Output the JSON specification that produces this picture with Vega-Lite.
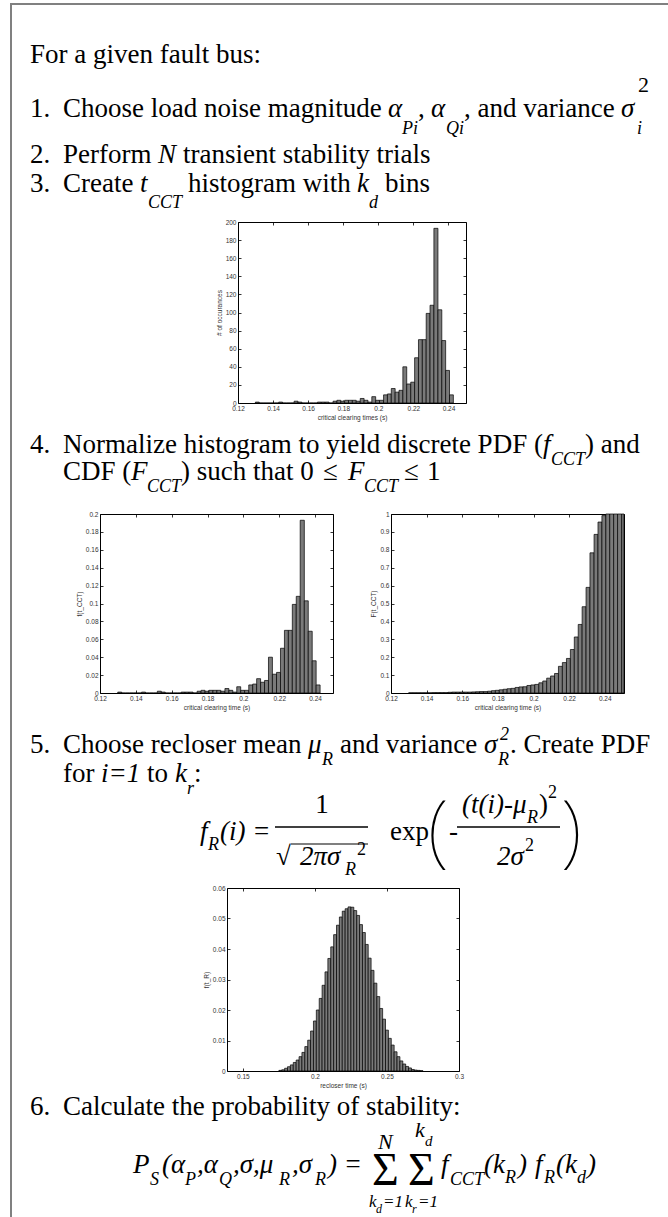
{
"$schema": "https://vega.github.io/schema/vega-lite/v6.json",
"padding": 0,
"background": "white",
"spacing": 0,
"bounds": "flush",
"datasets": {
"cct": [
{"lo":0.1299,"hi":0.1321,"n":1,"p":0.001,"F":0.001},
{"lo":0.1321,"hi":0.1343,"n":0,"p":0,"F":0.001},
{"lo":0.1343,"hi":0.1365,"n":0,"p":0,"F":0.001},
{"lo":0.1365,"hi":0.1387,"n":0,"p":0,"F":0.001},
{"lo":0.1387,"hi":0.1409,"n":0,"p":0,"F":0.001},
{"lo":0.1409,"hi":0.1432,"n":0,"p":0,"F":0.001},
{"lo":0.1432,"hi":0.1454,"n":1,"p":0.001,"F":0.002},
{"lo":0.1454,"hi":0.1476,"n":0,"p":0,"F":0.002},
{"lo":0.1476,"hi":0.1498,"n":0,"p":0,"F":0.002},
{"lo":0.1498,"hi":0.1520,"n":0,"p":0,"F":0.002},
{"lo":0.1520,"hi":0.1542,"n":2,"p":0.002,"F":0.004},
{"lo":0.1542,"hi":0.1564,"n":1,"p":0.001,"F":0.005},
{"lo":0.1564,"hi":0.1587,"n":0,"p":0,"F":0.005},
{"lo":0.1587,"hi":0.1609,"n":0,"p":0,"F":0.005},
{"lo":0.1609,"hi":0.1631,"n":0,"p":0,"F":0.005},
{"lo":0.1631,"hi":0.1653,"n":0,"p":0,"F":0.005},
{"lo":0.1653,"hi":0.1675,"n":1,"p":0.001,"F":0.006},
{"lo":0.1675,"hi":0.1697,"n":1,"p":0.001,"F":0.007},
{"lo":0.1697,"hi":0.1719,"n":1,"p":0.001,"F":0.008},
{"lo":0.1719,"hi":0.1742,"n":0,"p":0,"F":0.008},
{"lo":0.1742,"hi":0.1764,"n":2,"p":0.002,"F":0.010},
{"lo":0.1764,"hi":0.1786,"n":3,"p":0.003,"F":0.013},
{"lo":0.1786,"hi":0.1808,"n":2,"p":0.002,"F":0.015},
{"lo":0.1808,"hi":0.1830,"n":3,"p":0.003,"F":0.018},
{"lo":0.1830,"hi":0.1852,"n":3,"p":0.003,"F":0.021},
{"lo":0.1852,"hi":0.1874,"n":3,"p":0.003,"F":0.024},
{"lo":0.1874,"hi":0.1897,"n":2,"p":0.002,"F":0.026},
{"lo":0.1897,"hi":0.1919,"n":5,"p":0.005,"F":0.031},
{"lo":0.1919,"hi":0.1941,"n":3,"p":0.003,"F":0.034},
{"lo":0.1941,"hi":0.1963,"n":1,"p":0.001,"F":0.035},
{"lo":0.1963,"hi":0.1985,"n":7,"p":0.007,"F":0.042},
{"lo":0.1985,"hi":0.2007,"n":3,"p":0.003,"F":0.045},
{"lo":0.2007,"hi":0.2030,"n":3,"p":0.003,"F":0.048},
{"lo":0.2030,"hi":0.2052,"n":9,"p":0.009,"F":0.057},
{"lo":0.2052,"hi":0.2074,"n":10,"p":0.010,"F":0.067},
{"lo":0.2074,"hi":0.2096,"n":16,"p":0.016,"F":0.083},
{"lo":0.2096,"hi":0.2118,"n":12,"p":0.012,"F":0.095},
{"lo":0.2118,"hi":0.2140,"n":14,"p":0.014,"F":0.109},
{"lo":0.2140,"hi":0.2162,"n":40,"p":0.040,"F":0.149},
{"lo":0.2162,"hi":0.2185,"n":21,"p":0.021,"F":0.170},
{"lo":0.2185,"hi":0.2207,"n":23,"p":0.023,"F":0.193},
{"lo":0.2207,"hi":0.2229,"n":50,"p":0.050,"F":0.243},
{"lo":0.2229,"hi":0.2251,"n":70,"p":0.070,"F":0.313},
{"lo":0.2251,"hi":0.2273,"n":70,"p":0.070,"F":0.383},
{"lo":0.2273,"hi":0.2295,"n":99,"p":0.099,"F":0.482},
{"lo":0.2295,"hi":0.2317,"n":108,"p":0.108,"F":0.590},
{"lo":0.2317,"hi":0.2340,"n":193,"p":0.193,"F":0.783},
{"lo":0.2340,"hi":0.2362,"n":103,"p":0.103,"F":0.886},
{"lo":0.2362,"hi":0.2384,"n":69,"p":0.069,"F":0.955},
{"lo":0.2384,"hi":0.2406,"n":36,"p":0.036,"F":0.991},
{"lo":0.2406,"hi":0.2428,"n":9,"p":0.009,"F":1},
{"lo":0.2428,"hi":0.2450,"n":0,"p":0,"F":1},
{"lo":0.2450,"hi":0.2472,"n":0,"p":0,"F":1},
{"lo":0.2472,"hi":0.2495,"n":0,"p":0,"F":1},
{"lo":0.2495,"hi":0.2508,"n":0,"p":0,"F":1}
],
"rec": [
{"lo":0.175,"hi":0.177,"f":0.0002},
{"lo":0.177,"hi":0.179,"f":0.0004},
{"lo":0.179,"hi":0.181,"f":0.0009},
{"lo":0.181,"hi":0.183,"f":0.0014},
{"lo":0.183,"hi":0.185,"f":0.0020},
{"lo":0.185,"hi":0.187,"f":0.0028},
{"lo":0.187,"hi":0.189,"f":0.0036},
{"lo":0.189,"hi":0.191,"f":0.0047},
{"lo":0.191,"hi":0.193,"f":0.0061},
{"lo":0.193,"hi":0.195,"f":0.0080},
{"lo":0.195,"hi":0.197,"f":0.0101},
{"lo":0.197,"hi":0.199,"f":0.0131},
{"lo":0.199,"hi":0.201,"f":0.0164},
{"lo":0.201,"hi":0.203,"f":0.0200},
{"lo":0.203,"hi":0.205,"f":0.0238},
{"lo":0.205,"hi":0.207,"f":0.0281},
{"lo":0.207,"hi":0.209,"f":0.0325},
{"lo":0.209,"hi":0.211,"f":0.0369},
{"lo":0.211,"hi":0.213,"f":0.0407},
{"lo":0.213,"hi":0.215,"f":0.0447},
{"lo":0.215,"hi":0.217,"f":0.0478},
{"lo":0.217,"hi":0.219,"f":0.0505},
{"lo":0.219,"hi":0.221,"f":0.0524},
{"lo":0.221,"hi":0.223,"f":0.0532},
{"lo":0.223,"hi":0.225,"f":0.0538},
{"lo":0.225,"hi":0.227,"f":0.0537},
{"lo":0.227,"hi":0.229,"f":0.0526},
{"lo":0.229,"hi":0.231,"f":0.0510},
{"lo":0.231,"hi":0.233,"f":0.0480},
{"lo":0.233,"hi":0.235,"f":0.0454},
{"lo":0.235,"hi":0.237,"f":0.0415},
{"lo":0.237,"hi":0.239,"f":0.0370},
{"lo":0.239,"hi":0.241,"f":0.0330},
{"lo":0.241,"hi":0.243,"f":0.0288},
{"lo":0.243,"hi":0.245,"f":0.0244},
{"lo":0.245,"hi":0.247,"f":0.0205},
{"lo":0.247,"hi":0.249,"f":0.0170},
{"lo":0.249,"hi":0.251,"f":0.0134},
{"lo":0.251,"hi":0.253,"f":0.0107},
{"lo":0.253,"hi":0.255,"f":0.0085},
{"lo":0.255,"hi":0.257,"f":0.0063},
{"lo":0.257,"hi":0.259,"f":0.0047},
{"lo":0.259,"hi":0.261,"f":0.0033},
{"lo":0.261,"hi":0.263,"f":0.0023},
{"lo":0.263,"hi":0.265,"f":0.0015},
{"lo":0.265,"hi":0.267,"f":0.0010},
{"lo":0.267,"hi":0.269,"f":0.0005},
{"lo":0.269,"hi":0.271,"f":0.0003},
{"lo":0.271,"hi":0.273,"f":0.0002},
{"lo":0.273,"hi":0.275,"f":0.0001}
]
},
"vconcat": [
{
"width": 668, "height": 222,
"layer": [
{"data":{"values":[{}]},"mark":{"type":"rule","color":"#808080","strokeWidth":2},"encoding":{"x":{"value":10},"x2":{"value":668},"y":{"value":4}}},
{"data":{"values":[{}]},"mark":{"type":"rule","color":"#808080","strokeWidth":2},"encoding":{"x":{"value":11},"y":{"value":3},"y2":{"value":222}}},
{"data":{"values":[{"t":"For a given fault bus:"}]},"mark":{"type":"text"},"encoding":{"text":{"field":"t"},"x":{"value":30},"y":{"value":63}}},
{"data":{"values":[{"t":"1."}]},"mark":{"type":"text"},"encoding":{"text":{"field":"t"},"x":{"value":30},"y":{"value":117}}},
{"data":{"values":[{"t":"Choose load noise magnitude"}]},"mark":{"type":"text"},"encoding":{"text":{"field":"t"},"x":{"value":63},"y":{"value":117}}},
{"data":{"values":[{"t":"α"}]},"mark":{"type":"text","fontStyle":"italic"},"encoding":{"text":{"field":"t"},"x":{"value":388},"y":{"value":117}}},
{"data":{"values":[{"t":"Pi"}]},"mark":{"type":"text","fontStyle":"italic","fontSize":18},"encoding":{"text":{"field":"t"},"x":{"value":402},"y":{"value":134}}},
{"data":{"values":[{"t":","}]},"mark":{"type":"text"},"encoding":{"text":{"field":"t"},"x":{"value":418},"y":{"value":117}}},
{"data":{"values":[{"t":"α"}]},"mark":{"type":"text","fontStyle":"italic"},"encoding":{"text":{"field":"t"},"x":{"value":431},"y":{"value":117}}},
{"data":{"values":[{"t":"Qi"}]},"mark":{"type":"text","fontStyle":"italic","fontSize":18},"encoding":{"text":{"field":"t"},"x":{"value":446},"y":{"value":134}}},
{"data":{"values":[{"t":", and variance"}]},"mark":{"type":"text"},"encoding":{"text":{"field":"t"},"x":{"value":464},"y":{"value":117}}},
{"data":{"values":[{"t":"σ"}]},"mark":{"type":"text","fontStyle":"italic"},"encoding":{"text":{"field":"t"},"x":{"value":621},"y":{"value":117}}},
{"data":{"values":[{"t":"i"}]},"mark":{"type":"text","fontStyle":"italic","fontSize":18},"encoding":{"text":{"field":"t"},"x":{"value":637},"y":{"value":134}}},
{"data":{"values":[{"t":"2"}]},"mark":{"type":"text","fontSize":22},"encoding":{"text":{"field":"t"},"x":{"value":638},"y":{"value":92}}},
{"data":{"values":[{"t":"2."}]},"mark":{"type":"text"},"encoding":{"text":{"field":"t"},"x":{"value":30},"y":{"value":163}}},
{"data":{"values":[{"t":"Perform"}]},"mark":{"type":"text"},"encoding":{"text":{"field":"t"},"x":{"value":63},"y":{"value":163}}},
{"data":{"values":[{"t":"N"}]},"mark":{"type":"text","fontStyle":"italic"},"encoding":{"text":{"field":"t"},"x":{"value":158},"y":{"value":163}}},
{"data":{"values":[{"t":"transient stability trials"}]},"mark":{"type":"text"},"encoding":{"text":{"field":"t"},"x":{"value":183},"y":{"value":163}}},
{"data":{"values":[{"t":"3."}]},"mark":{"type":"text"},"encoding":{"text":{"field":"t"},"x":{"value":30},"y":{"value":192}}},
{"data":{"values":[{"t":"Create"}]},"mark":{"type":"text"},"encoding":{"text":{"field":"t"},"x":{"value":63},"y":{"value":192}}},
{"data":{"values":[{"t":"t"}]},"mark":{"type":"text","fontStyle":"italic"},"encoding":{"text":{"field":"t"},"x":{"value":140},"y":{"value":192}}},
{"data":{"values":[{"t":"CCT"}]},"mark":{"type":"text","fontStyle":"italic","fontSize":18},"encoding":{"text":{"field":"t"},"x":{"value":148},"y":{"value":208}}},
{"data":{"values":[{"t":"histogram with"}]},"mark":{"type":"text"},"encoding":{"text":{"field":"t"},"x":{"value":188},"y":{"value":192}}},
{"data":{"values":[{"t":"k"}]},"mark":{"type":"text","fontStyle":"italic"},"encoding":{"text":{"field":"t"},"x":{"value":357},"y":{"value":192}}},
{"data":{"values":[{"t":"d"}]},"mark":{"type":"text","fontStyle":"italic","fontSize":18},"encoding":{"text":{"field":"t"},"x":{"value":369},"y":{"value":208}}},
{"data":{"values":[{"t":"bins"}]},"mark":{"type":"text"},"encoding":{"text":{"field":"t"},"x":{"value":385},"y":{"value":192}}}
]
},
{
"width": 668, "height": 181,
"layer": [
{"data":{"values":[{}]},"mark":{"type":"rule","color":"#808080","strokeWidth":2},"encoding":{"x":{"value":11},"y":{"value":0},"y2":{"value":181}}},
{"data": {"name": "cct"}, "transform": [{"filter": "datum.lo < 0.2428"}], "mark": {"type": "bar"}, "encoding": {
"x": {"field": "lo", "type": "quantitative", "scale": {"domain": [0.12, 0.25], "range": [238, 466], "nice": false, "zero": false}, "axis": {"orient": "bottom", "values": [0.12,0.14,0.16,0.18,0.2,0.22,0.24], "format": "~r", "title": "critical clearing times (s)"}},
"x2": {"field": "hi"},
"y": {"field": "n", "type": "quantitative", "scale": {"domain": [0, 200], "nice": false}, "axis": {"orient": "left", "offset": -238, "values": [0,20,40,60,80,100,120,140,160,180,200], "format": "~r", "title": "# of occurances"}},
"y2": {"datum": 0}}},
{"data": {"name": "cct"}, "transform": [{"filter": "datum.lo < 0.2428"}], "mark": {"type": "bar", "opacity": 0}, "encoding": {
"x": {"field": "lo", "type": "quantitative", "scale": {"domain": [0.12, 0.25], "range": [238, 466], "nice": false, "zero": false}, "axis": {"orient": "top", "values": [0.12,0.14,0.16,0.18,0.2,0.22,0.24], "labels": false, "title": null}},
"x2": {"field": "hi"},
"y": {"field": "n", "type": "quantitative", "scale": {"domain": [0, 200], "nice": false}, "axis": {"orient": "right", "offset": -202, "values": [0,20,40,60,80,100,120,140,160,180,200], "labels": false, "title": null}},
"y2": {"datum": 0}}}
],
"resolve": {"scale": {"x": "independent", "y": "independent"}, "axis": {"x": "independent", "y": "independent"}}
},
{
"width": 668, "height": 111,
"layer": [
{"data":{"values":[{}]},"mark":{"type":"rule","color":"#808080","strokeWidth":2},"encoding":{"x":{"value":11},"y":{"value":0},"y2":{"value":111}}},
{"data":{"values":[{"t":"4."}]},"mark":{"type":"text"},"encoding":{"text":{"field":"t"},"x":{"value":30},"y":{"value":50}}},
{"data":{"values":[{"t":"Normalize histogram to yield discrete PDF ("}]},"mark":{"type":"text"},"encoding":{"text":{"field":"t"},"x":{"value":63},"y":{"value":50}}},
{"data":{"values":[{"t":"f"}]},"mark":{"type":"text","fontStyle":"italic"},"encoding":{"text":{"field":"t"},"x":{"value":543},"y":{"value":50}}},
{"data":{"values":[{"t":"CCT"}]},"mark":{"type":"text","fontStyle":"italic","fontSize":18},"encoding":{"text":{"field":"t"},"x":{"value":551},"y":{"value":62}}},
{"data":{"values":[{"t":") and"}]},"mark":{"type":"text"},"encoding":{"text":{"field":"t"},"x":{"value":585},"y":{"value":50}}},
{"data":{"values":[{"t":"CDF ("}]},"mark":{"type":"text"},"encoding":{"text":{"field":"t"},"x":{"value":63},"y":{"value":77}}},
{"data":{"values":[{"t":"F"}]},"mark":{"type":"text","fontStyle":"italic"},"encoding":{"text":{"field":"t"},"x":{"value":131},"y":{"value":77}}},
{"data":{"values":[{"t":"CCT"}]},"mark":{"type":"text","fontStyle":"italic","fontSize":18},"encoding":{"text":{"field":"t"},"x":{"value":147},"y":{"value":89}}},
{"data":{"values":[{"t":") such that 0"}]},"mark":{"type":"text"},"encoding":{"text":{"field":"t"},"x":{"value":181},"y":{"value":77}}},
{"data":{"values":[{"t":"≤"}]},"mark":{"type":"text"},"encoding":{"text":{"field":"t"},"x":{"value":323},"y":{"value":77}}},
{"data":{"values":[{"t":"F"}]},"mark":{"type":"text","fontStyle":"italic"},"encoding":{"text":{"field":"t"},"x":{"value":348},"y":{"value":77}}},
{"data":{"values":[{"t":"CCT"}]},"mark":{"type":"text","fontStyle":"italic","fontSize":18},"encoding":{"text":{"field":"t"},"x":{"value":364},"y":{"value":89}}},
{"data":{"values":[{"t":"≤"}]},"mark":{"type":"text"},"encoding":{"text":{"field":"t"},"x":{"value":404},"y":{"value":77}}},
{"data":{"values":[{"t":"1"}]},"mark":{"type":"text"},"encoding":{"text":{"field":"t"},"x":{"value":427},"y":{"value":77}}}
]
},
{
"width": 668, "height": 179,
"layer": [
{"data":{"values":[{}]},"mark":{"type":"rule","color":"#808080","strokeWidth":2},"encoding":{"x":{"value":11},"y":{"value":0},"y2":{"value":179}}},
{"data": {"name": "cct"}, "transform": [{"filter": "datum.lo < 0.2428"}], "mark": {"type": "bar"}, "encoding": {
"x": {"field": "lo", "type": "quantitative", "scale": {"domain": [0.12, 0.25], "range": [100, 333], "nice": false, "zero": false}, "axis": {"orient": "bottom", "values": [0.12,0.14,0.16,0.18,0.2,0.22,0.24], "format": "~r", "title": "critical clearing time (s)"}},
"x2": {"field": "hi"},
"y": {"field": "p", "type": "quantitative", "scale": {"domain": [0, 0.2], "nice": false}, "axis": {"orient": "left", "offset": -100, "values": [0,0.02,0.04,0.06,0.08,0.1,0.12,0.14,0.16,0.18,0.2], "format": "~r", "title": "f(t_CCT)"}},
"y2": {"datum": 0}}},
{"data": {"name": "cct"}, "transform": [{"filter": "datum.lo < 0.2428"}], "mark": {"type": "bar", "opacity": 0}, "encoding": {
"x": {"field": "lo", "type": "quantitative", "scale": {"domain": [0.12, 0.25], "range": [100, 333], "nice": false, "zero": false}, "axis": {"orient": "top", "values": [0.12,0.14,0.16,0.18,0.2,0.22,0.24], "labels": false, "title": null}},
"x2": {"field": "hi"},
"y": {"field": "p", "type": "quantitative", "scale": {"domain": [0, 0.2], "nice": false}, "axis": {"orient": "right", "offset": -335, "values": [0,0.02,0.04,0.06,0.08,0.1,0.12,0.14,0.16,0.18,0.2], "labels": false, "title": null}},
"y2": {"datum": 0}}},
{"data": {"name": "cct"}, "mark": {"type": "bar"}, "encoding": {
"x": {"field": "lo", "type": "quantitative", "scale": {"domain": [0.12, 0.2508], "range": [391, 624], "nice": false, "zero": false}, "axis": {"orient": "bottom", "values": [0.12,0.14,0.16,0.18,0.2,0.22,0.24], "format": "~r", "title": "critical clearing time (s)"}},
"x2": {"field": "hi"},
"y": {"field": "F", "type": "quantitative", "scale": {"domain": [0, 1], "nice": false}, "axis": {"orient": "left", "offset": -391, "values": [0,0.1,0.2,0.3,0.4,0.5,0.6,0.7,0.8,0.9,1], "format": "~r", "title": "F(t_CCT)"}},
"y2": {"datum": 0}}},
{"data": {"name": "cct"}, "mark": {"type": "bar", "opacity": 0}, "encoding": {
"x": {"field": "lo", "type": "quantitative", "scale": {"domain": [0.12, 0.2508], "range": [391, 624], "nice": false, "zero": false}, "axis": {"orient": "top", "values": [0.12,0.14,0.16,0.18,0.2,0.22,0.24], "labels": false, "title": null}},
"x2": {"field": "hi"},
"y": {"field": "F", "type": "quantitative", "scale": {"domain": [0, 1], "nice": false}, "axis": {"orient": "right", "offset": -44, "values": [0,0.1,0.2,0.3,0.4,0.5,0.6,0.7,0.8,0.9,1], "labels": false, "title": null}},
"y2": {"datum": 0}}}
],
"resolve": {"scale": {"x": "independent", "y": "independent"}, "axis": {"x": "independent", "y": "independent"}}
},
{
"width": 668, "height": 195,
"layer": [
{"data":{"values":[{}]},"mark":{"type":"rule","color":"#808080","strokeWidth":2},"encoding":{"x":{"value":11},"y":{"value":0},"y2":{"value":195}}},
{"data":{"values":[{"t":"5."}]},"mark":{"type":"text"},"encoding":{"text":{"field":"t"},"x":{"value":30},"y":{"value":60}}},
{"data":{"values":[{"t":"Choose recloser mean"}]},"mark":{"type":"text"},"encoding":{"text":{"field":"t"},"x":{"value":63},"y":{"value":60}}},
{"data":{"values":[{"t":"μ"}]},"mark":{"type":"text","fontStyle":"italic"},"encoding":{"text":{"field":"t"},"x":{"value":308},"y":{"value":60}}},
{"data":{"values":[{"t":"R"}]},"mark":{"type":"text","fontStyle":"italic","fontSize":18},"encoding":{"text":{"field":"t"},"x":{"value":322},"y":{"value":72}}},
{"data":{"values":[{"t":"and variance"}]},"mark":{"type":"text"},"encoding":{"text":{"field":"t"},"x":{"value":340},"y":{"value":60}}},
{"data":{"values":[{"t":"σ"}]},"mark":{"type":"text","fontStyle":"italic"},"encoding":{"text":{"field":"t"},"x":{"value":484},"y":{"value":60}}},
{"data":{"values":[{"t":"R"}]},"mark":{"type":"text","fontStyle":"italic","fontSize":18},"encoding":{"text":{"field":"t"},"x":{"value":498},"y":{"value":72}}},
{"data":{"values":[{"t":"2"}]},"mark":{"type":"text","fontStyle":"italic","fontSize":18},"encoding":{"text":{"field":"t"},"x":{"value":500},"y":{"value":47}}},
{"data":{"values":[{"t":". Create PDF"}]},"mark":{"type":"text"},"encoding":{"text":{"field":"t"},"x":{"value":510},"y":{"value":60}}},
{"data":{"values":[{"t":"for"}]},"mark":{"type":"text"},"encoding":{"text":{"field":"t"},"x":{"value":63},"y":{"value":89}}},
{"data":{"values":[{"t":"i=1"}]},"mark":{"type":"text","fontStyle":"italic"},"encoding":{"text":{"field":"t"},"x":{"value":101},"y":{"value":89}}},
{"data":{"values":[{"t":"to"}]},"mark":{"type":"text"},"encoding":{"text":{"field":"t"},"x":{"value":147},"y":{"value":89}}},
{"data":{"values":[{"t":"k"}]},"mark":{"type":"text","fontStyle":"italic"},"encoding":{"text":{"field":"t"},"x":{"value":175},"y":{"value":89}}},
{"data":{"values":[{"t":"r"}]},"mark":{"type":"text","fontStyle":"italic","fontSize":18},"encoding":{"text":{"field":"t"},"x":{"value":187},"y":{"value":101}}},
{"data":{"values":[{"t":":"}]},"mark":{"type":"text"},"encoding":{"text":{"field":"t"},"x":{"value":194},"y":{"value":89}}},
{"data":{"values":[{"t":"f"}]},"mark":{"type":"text","fontStyle":"italic"},"encoding":{"text":{"field":"t"},"x":{"value":200},"y":{"value":147}}},
{"data":{"values":[{"t":"R"}]},"mark":{"type":"text","fontStyle":"italic","fontSize":18},"encoding":{"text":{"field":"t"},"x":{"value":208},"y":{"value":157}}},
{"data":{"values":[{"t":"(i) ="}]},"mark":{"type":"text","fontStyle":"italic"},"encoding":{"text":{"field":"t"},"x":{"value":220},"y":{"value":147}}},
{"data":{"values":[{"t":"1"}]},"mark":{"type":"text","align":"center"},"encoding":{"text":{"field":"t"},"x":{"value":322},"y":{"value":120}}},
{"data":{"values":[{}]},"mark":{"type":"rule","color":"#000","strokeWidth":1.3},"encoding":{"x":{"value":275},"x2":{"value":368},"y":{"value":134}}},
{"data":{"values":[{"t":"√"}]},"mark":{"type":"text"},"encoding":{"text":{"field":"t"},"x":{"value":276},"y":{"value":172}}},
{"data":{"values":[{}]},"mark":{"type":"rule","color":"#000","strokeWidth":1.2},"encoding":{"x":{"value":291},"x2":{"value":368},"y":{"value":151}}},
{"data":{"values":[{"t":"2πσ"}]},"mark":{"type":"text","fontStyle":"italic"},"encoding":{"text":{"field":"t"},"x":{"value":300},"y":{"value":172}}},
{"data":{"values":[{"t":"R"}]},"mark":{"type":"text","fontStyle":"italic","fontSize":18},"encoding":{"text":{"field":"t"},"x":{"value":345},"y":{"value":182}}},
{"data":{"values":[{"t":"2"}]},"mark":{"type":"text","fontSize":18},"encoding":{"text":{"field":"t"},"x":{"value":357},"y":{"value":162}}},
{"data":{"values":[{"t":"exp"}]},"mark":{"type":"text"},"encoding":{"text":{"field":"t"},"x":{"value":390},"y":{"value":147}}},
{"data":{"values":[{"t":"("}]},"mark":{"type":"text","fontSize":80,"font":"Noto Sans","fontWeight":100},"encoding":{"text":{"field":"t"},"x":{"value":428},"y":{"value":164}}},
{"data":{"values":[{"t":"-"}]},"mark":{"type":"text"},"encoding":{"text":{"field":"t"},"x":{"value":449},"y":{"value":147}}},
{"data":{"values":[{"t":"(t(i)-μ"}]},"mark":{"type":"text","fontStyle":"italic"},"encoding":{"text":{"field":"t"},"x":{"value":462},"y":{"value":120}}},
{"data":{"values":[{"t":"R"}]},"mark":{"type":"text","fontStyle":"italic","fontSize":18},"encoding":{"text":{"field":"t"},"x":{"value":527},"y":{"value":130}}},
{"data":{"values":[{"t":")"}]},"mark":{"type":"text"},"encoding":{"text":{"field":"t"},"x":{"value":539},"y":{"value":120}}},
{"data":{"values":[{"t":"2"}]},"mark":{"type":"text","fontSize":18},"encoding":{"text":{"field":"t"},"x":{"value":548},"y":{"value":105}}},
{"data":{"values":[{}]},"mark":{"type":"rule","color":"#000","strokeWidth":1.3},"encoding":{"x":{"value":457},"x2":{"value":560},"y":{"value":134}}},
{"data":{"values":[{"t":"2σ"}]},"mark":{"type":"text","fontStyle":"italic"},"encoding":{"text":{"field":"t"},"x":{"value":497},"y":{"value":172}}},
{"data":{"values":[{"t":"2"}]},"mark":{"type":"text","fontSize":18},"encoding":{"text":{"field":"t"},"x":{"value":525},"y":{"value":158}}},
{"data":{"values":[{"t":")"}]},"mark":{"type":"text","fontSize":80,"font":"Noto Sans","fontWeight":100},"encoding":{"text":{"field":"t"},"x":{"value":561},"y":{"value":164}}}
]
},
{
"width": 668, "height": 183,
"layer": [
{"data":{"values":[{}]},"mark":{"type":"rule","color":"#808080","strokeWidth":2},"encoding":{"x":{"value":11},"y":{"value":0},"y2":{"value":183}}},
{"data": {"name": "rec"}, "mark": {"type": "bar"}, "encoding": {
"x": {"field": "lo", "type": "quantitative", "scale": {"domain": [0.139, 0.3], "range": [227, 459], "nice": false, "zero": false}, "axis": {"orient": "bottom", "values": [0.15,0.2,0.25,0.3], "format": "~r", "title": "recloser time (s)"}},
"x2": {"field": "hi"},
"y": {"field": "f", "type": "quantitative", "scale": {"domain": [0, 0.06], "nice": false}, "axis": {"orient": "left", "offset": -227, "values": [0,0.01,0.02,0.03,0.04,0.05,0.06], "format": "~r", "title": "f(t_R)"}},
"y2": {"datum": 0}}},
{"data": {"name": "rec"}, "mark": {"type": "bar", "opacity": 0}, "encoding": {
"x": {"field": "lo", "type": "quantitative", "scale": {"domain": [0.139, 0.3], "range": [227, 459], "nice": false, "zero": false}, "axis": {"orient": "top", "values": [0.15,0.2,0.25,0.3], "labels": false, "title": null}},
"x2": {"field": "hi"},
"y": {"field": "f", "type": "quantitative", "scale": {"domain": [0, 0.06], "nice": false}, "axis": {"orient": "right", "offset": -209, "values": [0,0.01,0.02,0.03,0.04,0.05,0.06], "labels": false, "title": null}},
"y2": {"datum": 0}}}
],
"resolve": {"scale": {"x": "independent", "y": "independent"}, "axis": {"x": "independent", "y": "independent"}}
},
{
"width": 668, "height": 146,
"layer": [
{"data":{"values":[{}]},"mark":{"type":"rule","color":"#808080","strokeWidth":2},"encoding":{"x":{"value":11},"y":{"value":0},"y2":{"value":146}}},
{"data":{"values":[{"t":"6."}]},"mark":{"type":"text"},"encoding":{"text":{"field":"t"},"x":{"value":30},"y":{"value":44}}},
{"data":{"values":[{"t":"Calculate the probability of stability:"}]},"mark":{"type":"text"},"encoding":{"text":{"field":"t"},"x":{"value":63},"y":{"value":44}}},
{"data":{"values":[{"t":"P"}]},"mark":{"type":"text","fontStyle":"italic"},"encoding":{"text":{"field":"t"},"x":{"value":133},"y":{"value":102}}},
{"data":{"values":[{"t":"S"}]},"mark":{"type":"text","fontStyle":"italic","fontSize":18},"encoding":{"text":{"field":"t"},"x":{"value":150},"y":{"value":114}}},
{"data":{"values":[{"t":"(α"}]},"mark":{"type":"text","fontStyle":"italic"},"encoding":{"text":{"field":"t"},"x":{"value":162},"y":{"value":102}}},
{"data":{"values":[{"t":"P"}]},"mark":{"type":"text","fontStyle":"italic","fontSize":18},"encoding":{"text":{"field":"t"},"x":{"value":185},"y":{"value":114}}},
{"data":{"values":[{"t":",α"}]},"mark":{"type":"text","fontStyle":"italic"},"encoding":{"text":{"field":"t"},"x":{"value":197},"y":{"value":102}}},
{"data":{"values":[{"t":"Q"}]},"mark":{"type":"text","fontStyle":"italic","fontSize":18},"encoding":{"text":{"field":"t"},"x":{"value":219},"y":{"value":114}}},
{"data":{"values":[{"t":",σ,μ"}]},"mark":{"type":"text","fontStyle":"italic"},"encoding":{"text":{"field":"t"},"x":{"value":233},"y":{"value":102}}},
{"data":{"values":[{"t":"R"}]},"mark":{"type":"text","fontStyle":"italic","fontSize":18},"encoding":{"text":{"field":"t"},"x":{"value":279},"y":{"value":114}}},
{"data":{"values":[{"t":",σ"}]},"mark":{"type":"text","fontStyle":"italic"},"encoding":{"text":{"field":"t"},"x":{"value":292},"y":{"value":102}}},
{"data":{"values":[{"t":"R"}]},"mark":{"type":"text","fontStyle":"italic","fontSize":18},"encoding":{"text":{"field":"t"},"x":{"value":315},"y":{"value":114}}},
{"data":{"values":[{"t":") ="}]},"mark":{"type":"text","fontStyle":"italic"},"encoding":{"text":{"field":"t"},"x":{"value":328},"y":{"value":102}}},
{"data":{"values":[{"t":"Σ"}]},"mark":{"type":"text","fontSize":46},"encoding":{"text":{"field":"t"},"x":{"value":372},"y":{"value":114}}},
{"data":{"values":[{"t":"Σ"}]},"mark":{"type":"text","fontSize":46},"encoding":{"text":{"field":"t"},"x":{"value":408},"y":{"value":114}}},
{"data":{"values":[{"t":"N"}]},"mark":{"type":"text","fontStyle":"italic","fontSize":22},"encoding":{"text":{"field":"t"},"x":{"value":378},"y":{"value":78}}},
{"data":{"values":[{"t":"k"}]},"mark":{"type":"text","fontStyle":"italic","fontSize":22},"encoding":{"text":{"field":"t"},"x":{"value":415},"y":{"value":66}}},
{"data":{"values":[{"t":"d"}]},"mark":{"type":"text","fontStyle":"italic","fontSize":15},"encoding":{"text":{"field":"t"},"x":{"value":425},"y":{"value":75}}},
{"data":{"values":[{"t":"k"}]},"mark":{"type":"text","fontStyle":"italic","fontSize":17},"encoding":{"text":{"field":"t"},"x":{"value":369},"y":{"value":136}}},
{"data":{"values":[{"t":"d"}]},"mark":{"type":"text","fontStyle":"italic","fontSize":12},"encoding":{"text":{"field":"t"},"x":{"value":376},"y":{"value":142}}},
{"data":{"values":[{"t":"=1"}]},"mark":{"type":"text","fontStyle":"italic","fontSize":17},"encoding":{"text":{"field":"t"},"x":{"value":383},"y":{"value":136}}},
{"data":{"values":[{"t":"k"}]},"mark":{"type":"text","fontStyle":"italic","fontSize":17},"encoding":{"text":{"field":"t"},"x":{"value":405},"y":{"value":136}}},
{"data":{"values":[{"t":"r"}]},"mark":{"type":"text","fontStyle":"italic","fontSize":12},"encoding":{"text":{"field":"t"},"x":{"value":412},"y":{"value":142}}},
{"data":{"values":[{"t":"=1"}]},"mark":{"type":"text","fontStyle":"italic","fontSize":17},"encoding":{"text":{"field":"t"},"x":{"value":418},"y":{"value":136}}},
{"data":{"values":[{"t":"f"}]},"mark":{"type":"text","fontStyle":"italic"},"encoding":{"text":{"field":"t"},"x":{"value":441},"y":{"value":102}}},
{"data":{"values":[{"t":"CCT"}]},"mark":{"type":"text","fontStyle":"italic","fontSize":18},"encoding":{"text":{"field":"t"},"x":{"value":450},"y":{"value":114}}},
{"data":{"values":[{"t":"(k"}]},"mark":{"type":"text","fontStyle":"italic"},"encoding":{"text":{"field":"t"},"x":{"value":484},"y":{"value":102}}},
{"data":{"values":[{"t":"R"}]},"mark":{"type":"text","fontStyle":"italic","fontSize":18},"encoding":{"text":{"field":"t"},"x":{"value":505},"y":{"value":112}}},
{"data":{"values":[{"t":")"}]},"mark":{"type":"text","fontStyle":"italic"},"encoding":{"text":{"field":"t"},"x":{"value":518},"y":{"value":102}}},
{"data":{"values":[{"t":"f"}]},"mark":{"type":"text","fontStyle":"italic"},"encoding":{"text":{"field":"t"},"x":{"value":535},"y":{"value":102}}},
{"data":{"values":[{"t":"R"}]},"mark":{"type":"text","fontStyle":"italic","fontSize":18},"encoding":{"text":{"field":"t"},"x":{"value":544},"y":{"value":112}}},
{"data":{"values":[{"t":"(k"}]},"mark":{"type":"text","fontStyle":"italic"},"encoding":{"text":{"field":"t"},"x":{"value":556},"y":{"value":102}}},
{"data":{"values":[{"t":"d"}]},"mark":{"type":"text","fontStyle":"italic","fontSize":18},"encoding":{"text":{"field":"t"},"x":{"value":577},"y":{"value":112}}},
{"data":{"values":[{"t":")"}]},"mark":{"type":"text","fontStyle":"italic"},"encoding":{"text":{"field":"t"},"x":{"value":587},"y":{"value":102}}}
]
}
],
"config": {
"view": {"stroke": null},
"concat": {"spacing": 0},
"text": {"font": "Liberation Serif", "fontSize": 27, "align": "left", "baseline": "alphabetic", "color": "#000"},
"bar": {"fill": "#7a7a7a", "stroke": "#000", "strokeWidth": 0.7},
"axis": {"domain": true, "domainColor": "#000", "domainWidth": 1, "grid": false, "ticks": true, "tickSize": -3, "tickColor": "#000", "tickWidth": 0.8, "labelFont": "Liberation Sans", "labelFontSize": 6.5, "labelColor": "#333", "labelPadding": 5, "labelOverlap": false, "labelFlush": false, "titleFont": "Liberation Sans", "titleFontSize": 6.5, "titleFontWeight": "normal", "titleColor": "#333", "titlePadding": 3}
}
}
